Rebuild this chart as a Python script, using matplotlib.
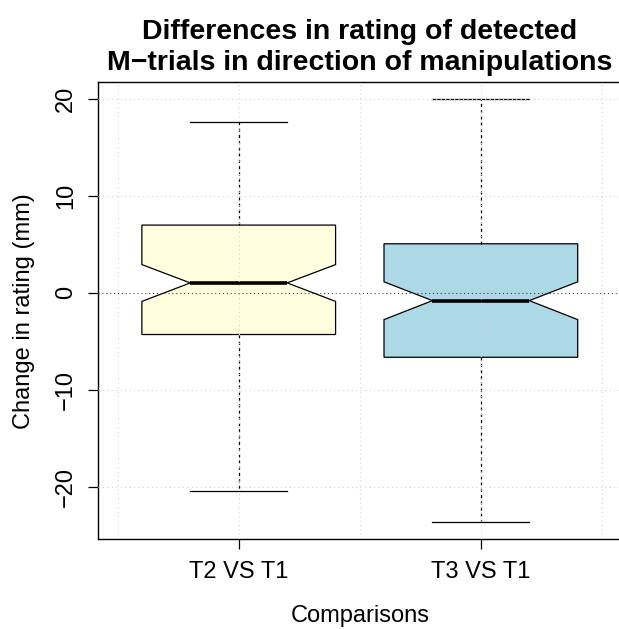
import matplotlib
matplotlib.use("Agg")
import matplotlib.pyplot as plt

plt.rcParams['font.family'] = ['Liberation Sans', 'DejaVu Sans']

# box statistics for the two comparisons (mm)
labels = ["T2 VS T1", "T3 VS T1"]
whisker_low = [-20.5, -23.7]
q1 = [-4.3, -6.65]
notch_low = [-0.88, -2.76]
medians = [1.03, -0.8]
notch_high = [2.92, 1.14]
q3 = [7.0, 5.07]
whisker_high = [17.6, 20.0]
box_colors = ["#FFFFE0", "#ADD8E6"]

stats = []
for i in range(len(labels)):
    stats.append(dict(label=labels[i], whislo=whisker_low[i], q1=q1[i],
                      med=medians[i], q3=q3[i], whishi=whisker_high[i],
                      cilo=notch_low[i], cihi=notch_high[i], fliers=[]))

fig = plt.figure(figsize=(6.19, 6.29), dpi=100)
# plot region runs slightly past the right edge of the canvas
ax = fig.add_axes([0.1588, 0.1426, 0.8449, 0.7266])

bp = ax.bxp(stats, positions=[1, 2], widths=0.8, shownotches=True, patch_artist=True,
            showfliers=False,
            boxprops=dict(edgecolor='black', linewidth=0.9),
            medianprops=dict(color='black', linewidth=2.6, solid_capstyle='butt'),
            whiskerprops=dict(color='black', linewidth=0.9, linestyle=(0, (2.5, 2.5))),
            capprops=dict(color='black', linewidth=0.9))
for patch, c in zip(bp['boxes'], box_colors):
    patch.set_facecolor(c)

# axis range with the usual 4% padding
lo = min(whisker_low)
hi = max(whisker_high)
pad = (hi - lo) * 0.04
ax.set_ylim(lo - pad, hi + pad)

# grid on top of the boxes
for x in [0.5, 1.0, 1.5, 2.0, 2.5]:
    ax.axvline(x, color='#d3d3d3', linewidth=0.8, linestyle=(0, (1, 3)), zorder=4)
for y in [-20, -10, 10, 20]:
    ax.axhline(y, color='#d3d3d3', linewidth=0.8, linestyle=(0, (1, 3)), zorder=4)
ax.axhline(0, color='#444444', linewidth=0.8, linestyle=(0, (1, 2.5)), zorder=4)
ax.set_xlim(0.42, 2.58)

ax.set_yticks([-20, -10, 0, 10, 20])
ax.set_yticklabels(['\u221220', '\u221210', '0', '10', '20'], rotation=90, va='center')
ax.set_xticks([1, 2])
ax.set_xticklabels(labels)
ax.tick_params(direction='out', length=7.5, width=0.9, labelsize=17, pad=8)

for side in ['left', 'bottom', 'top']:
    ax.spines[side].set_linewidth(1.0)
ax.spines['right'].set_visible(False)

ax.set_xlabel("Comparisons", fontsize=17, labelpad=16)
ax.set_ylabel("Change in rating (mm)", fontsize=17, labelpad=14)
ax.set_title("Differences in rating of detected\nM\u2212trials in direction of manipulations",
             fontsize=20.5, fontweight='bold', pad=8.5, linespacing=1.25)

fig.savefig("out.png", dpi=100)
